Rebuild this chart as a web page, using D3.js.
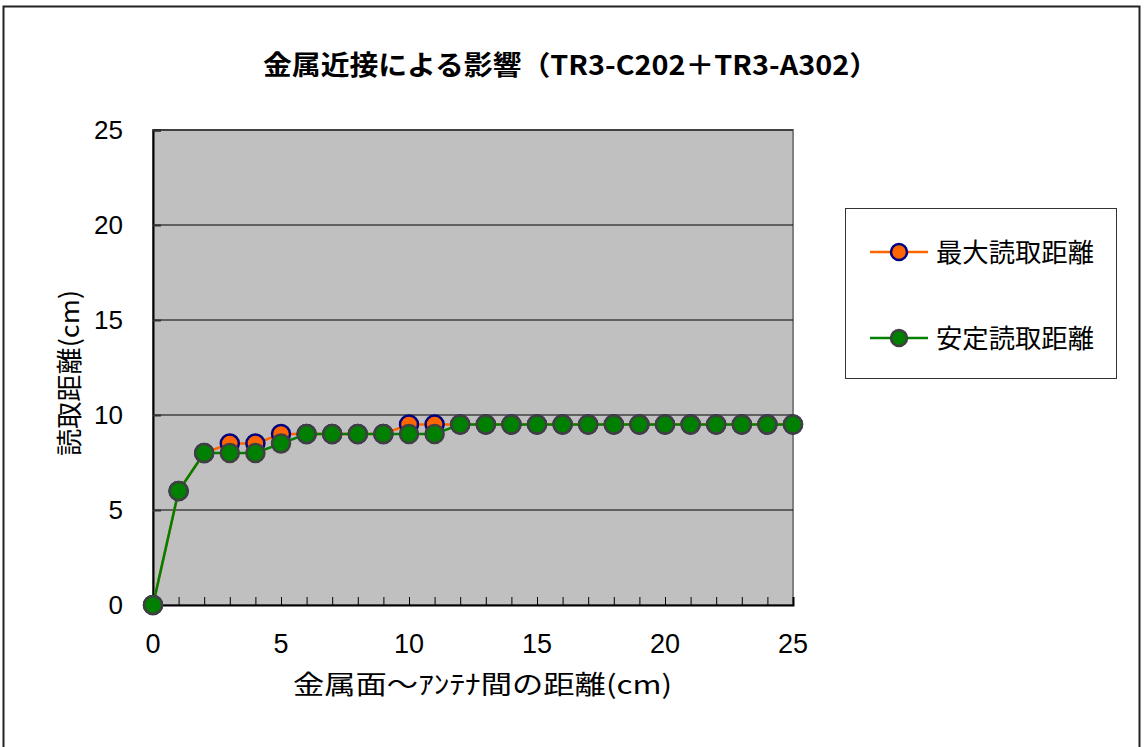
<!DOCTYPE html>
<html><head><meta charset="utf-8">
<script src="https://cdn.jsdelivr.net/npm/d3@7"></script>
<style>body{margin:0;background:#fff}svg{display:block}</style>
</head><body>
<svg id="c" width="1144" height="747"></svg>
<script>
const distances = [0,1,2,3,4,5,6,7,8,9,10,11,12,13,14,15,16,17,18,19,20,21,22,23,24,25];
const maxRead   = [0,6,8,8.5,8.5,9,9,9,9,9,9.5,9.5,9.5,9.5,9.5,9.5,9.5,9.5,9.5,9.5,9.5,9.5,9.5,9.5,9.5,9.5];
const stableRead= [0,6,8,8,8,8.5,9,9,9,9,9,9,9.5,9.5,9.5,9.5,9.5,9.5,9.5,9.5,9.5,9.5,9.5,9.5,9.5,9.5];
const seriesNames = ["最大読取距離","安定読取距離"];
const xTicks = [0,5,10,15,20,25];
const yTicks = [0,5,10,15,20,25];
const titleText = "金属近接による影響（TR3-C202＋TR3-A302）";
const xTitle = "金属面～ｱﾝﾃﾅ間の距離(cm)";
const yTitle = "読取距離(cm)";

const svg = d3.select("#c");
const font = "'Noto Sans CJK JP', sans-serif";
const numFont = "'Liberation Sans', Arial, sans-serif";
const L=153, R=793, T=130, B=605;
const x = d3.scaleLinear().domain([0,25]).range([L,R]);
const y = d3.scaleLinear().domain([0,25]).range([B,T]);

// chart border
svg.append("rect").attr("x",3.5).attr("y",6.5).attr("width",1136).attr("height",760)
  .attr("fill","#fff").attr("stroke","#222").attr("stroke-width",2);

// plot area
svg.append("rect").attr("x",L).attr("y",T).attr("width",R-L).attr("height",B-T)
  .attr("fill","#c0c0c0").attr("stroke","#808080").attr("stroke-width",2);

// gridlines
svg.append("g").selectAll("line").data(yTicks.filter(d=>d>0)).join("line")
  .attr("x1",L).attr("x2",R).attr("y1",d=>y(d)).attr("y2",d=>y(d))
  .attr("stroke","#000").attr("stroke-width",1);

// axes
const xAxis = d3.axisBottom(x).tickValues(d3.range(0,26)).tickSize(-8).tickFormat("");
svg.append("g").attr("transform",`translate(0,${B})`).call(xAxis)
  .call(g=>g.select(".domain").attr("stroke","#000").attr("stroke-width",2))
  .call(g=>g.selectAll(".tick line").attr("stroke","#000").attr("stroke-width",1));
const yAxis = d3.axisLeft(y).tickValues(yTicks).tickSize(-8).tickFormat("");
svg.append("g").attr("transform",`translate(${L},0)`).call(yAxis)
  .call(g=>g.select(".domain").attr("stroke","#000").attr("stroke-width",2))
  .call(g=>g.selectAll(".tick line").attr("stroke","#333").attr("stroke-width",2));

// tick labels
svg.append("g").selectAll("text").data(xTicks).join("text")
  .attr("x",d=>x(d)).attr("y",653).attr("text-anchor","middle")
  .attr("font-family",numFont).attr("font-size",27).attr("fill","#000").text(d=>d);
svg.append("g").selectAll("text").data(yTicks).join("text")
  .attr("x",123).attr("y",d=>y(d)+9).attr("text-anchor","end")
  .attr("font-family",numFont).attr("font-size",26).attr("fill","#000").text(d=>d);

// titles
svg.append("text").attr("x",263).attr("y",75)
  .attr("font-family",font).attr("font-size",27).attr("font-weight","bold")
  .attr("textLength",615).attr("lengthAdjust","spacingAndGlyphs").text(titleText);
svg.append("text").attr("x",293).attr("y",694)
  .attr("font-family",font).attr("font-size",26)
  .attr("textLength",379).attr("lengthAdjust","spacingAndGlyphs").text(xTitle);
svg.append("text").attr("transform","translate(79,290) rotate(-90)").attr("text-anchor","end")
  .attr("font-family",font).attr("font-size",26)
  .attr("textLength",166).attr("lengthAdjust","spacingAndGlyphs").text(yTitle);

const data = [
  {name:seriesNames[0], vals:maxRead, line:"#ff6600", fill:"#ff6600", stroke:"#000080"},
  {name:seriesNames[1], vals:stableRead, line:"#008000", fill:"#008000", stroke:"#404040"}
];
const lineGen = d3.line().x((d,i)=>x(distances[i])).y(d=>y(d));
data.forEach(s=>{
  const g = svg.append("g");
  g.append("path").attr("d",lineGen(s.vals)).attr("fill","none").attr("stroke",s.line).attr("stroke-width",2.5);
  g.selectAll("circle").data(s.vals).join("circle")
    .attr("cx",(d,i)=>x(distances[i])).attr("cy",d=>y(d)).attr("r",9)
    .attr("fill",s.fill).attr("stroke",s.stroke).attr("stroke-width",2.5);
});

// legend
svg.append("rect").attr("x",845.5).attr("y",208.5).attr("width",271).attr("height",170)
  .attr("fill","#fff").attr("stroke","#333").attr("stroke-width",1);
data.forEach((s,i)=>{
  const cy = 252 + i*86;
  svg.append("line").attr("x1",870).attr("x2",928).attr("y1",cy).attr("y2",cy)
    .attr("stroke",s.line).attr("stroke-width",2.5);
  svg.append("circle").attr("cx",899).attr("cy",cy).attr("r",8)
    .attr("fill",s.fill).attr("stroke",s.stroke).attr("stroke-width",2.5);
  svg.append("text").attr("x",936).attr("y",cy+10).attr("font-family",font).attr("font-size",26)
    .attr("textLength",158).attr("lengthAdjust","spacingAndGlyphs").text(s.name);
});
</script>
</body></html>
